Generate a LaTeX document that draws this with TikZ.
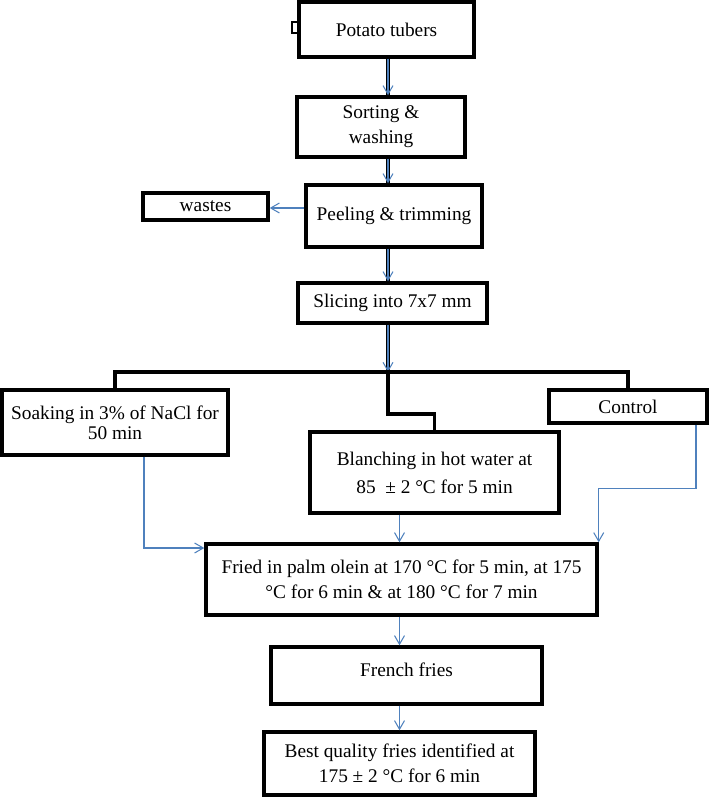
\documentclass[tikz,border=0pt]{standalone}
\usepackage{fontspec}
\setmainfont{Liberation Serif}
\usetikzlibrary{arrows.meta}
\definecolor{flowblue}{HTML}{4F81BD}

\tikzset{
    box/.style={draw, line width=2.9pt, inner sep=0pt, align=center,
        font=\fontsize{16.5}{17}\selectfont},
    link/.style={line width=2.9pt},
    flow/.style={draw=flowblue, line width=0.9pt, -{Straight Barb[length=2.6mm, width=3mm]}},
}

\begin{document}
\begin{tikzpicture}[x=0.03cm, y=-0.03cm]
    \useasboundingbox (0, 0) rectangle (709, 797);

    % main column
    \node[box, minimum width=5.25cm, minimum height=1.65cm] (potato) at (386.5, 29.5) {Potato tubers};
    \draw[line width=2.2pt] (292, 22) rectangle (299, 33);
    \node[box, minimum width=5.04cm, minimum height=1.8cm] (sorting) at (381, 127) {\raisebox{-0.1cm}{\begin{tabular}{@{}c@{}}Sorting \&\\[5pt]washing\end{tabular}}};
    \node[box, minimum width=5.28cm, minimum height=1.86cm] (peeling) at (394, 216) {Peeling \& trimming};
    \node[box, minimum width=3.75cm, minimum height=0.81cm] (wastes) at (205.5, 206.5) {wastes};
    \node[box, minimum width=5.67cm, minimum height=1.2cm] (slicing) at (392.5, 303) {Slicing into 7x7 mm};

    % treatments
    \node[box, minimum width=6.78cm, minimum height=1.95cm] (soaking) at (115, 422.5) {Soaking in 3\% of NaCl for\\50 min};
    \node[box, minimum width=4.74cm, minimum height=0.99cm] (control) at (628, 406.5) {Control};
    \node[box, minimum width=7.47cm, minimum height=2.43cm] (blanching) at (434.5, 472.5) {Blanching in hot water at\\[7pt]85 \ ± 2 °C for 5 min};

    % frying and result
    \node[box, minimum width=11.73cm, minimum height=2.13cm] (fried) at (401.5, 579.5) {Fried in palm olein at 170 °C for 5 min, at 175\\[4pt]°C for 6 min \& at 180 °C for 7 min};
    \node[box, minimum width=8.13cm, minimum height=1.71cm] (french) at (406.5, 675.5) {\raisebox{0.36cm}{French fries}};
    \node[box, minimum width=8.13cm, minimum height=1.89cm] (best) at (399.5, 763.5) {Best quality fries identified at\\[4pt]175 ± 2 °C for 6 min};

    \coordinate (split) at (388, 372);

    % spine, black under blue
    \foreach \a/\b in {potato/sorting, sorting/peeling, peeling/slicing} {
        \draw[link] (\a.south -| split) -- (\b.north -| split);
        \draw[flow] (\a.south -| split) -- (\b.north -| split);
    }
    \draw[link] (slicing.south -| split) -- (split);
    \draw[flow] (slicing.south -| split) -- (split);
    \draw[flow] (peeling.west |- 0, 208) -- (wastes.east |- 0, 208);

    % branching
    \draw[link] (soaking.north) -- (soaking.north |- split) -- (control.north |- split) -- (control.north);
    \draw[link] (split) -- ++(0, 42) -| (blanching.north);

    % into frying
    \draw[flow] ([xshift=0.87cm]soaking.south) |- ([yshift=0.945cm]fried.west);
    \draw[flow] (blanching.south -| best.north) -- (fried.north -| best.north);
    \draw[flow] ([xshift=2.04cm]control.south) -- ++(0, 64) -| (fried.north east);
    \draw[flow] (fried.south -| best.north) -- (french.north -| best.north);
    \draw[flow] (french.south -| best.north) -- (best.north);
\end{tikzpicture}
\end{document}
